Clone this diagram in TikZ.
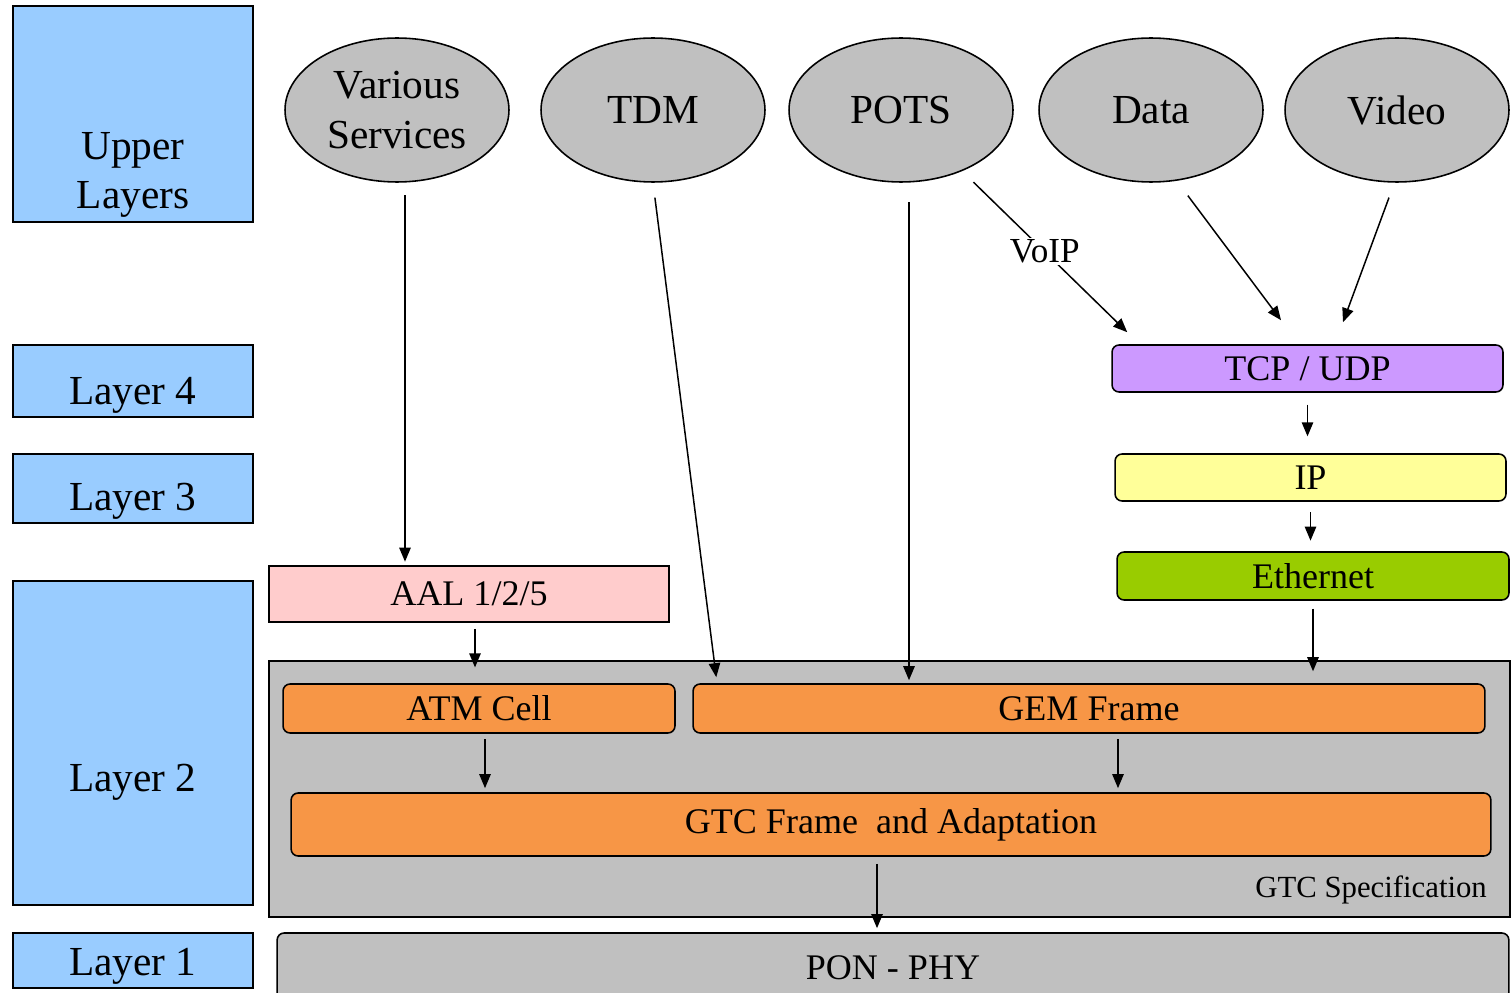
\documentclass[tikz,border=0pt]{standalone}
\usepackage{fontspec}
\setmainfont{Liberation Serif}
\usetikzlibrary{shapes.geometric,arrows.meta}
\definecolor{layerblue}{HTML}{99CCFF}
\definecolor{svcgray}{HTML}{C0C0C0}
\definecolor{tcppurple}{HTML}{CC99FF}
\definecolor{ipyellow}{HTML}{FFFF99}
\definecolor{ethgreen}{HTML}{99CC00}
\definecolor{aalpink}{HTML}{FFCCCC}
\definecolor{gtcorange}{HTML}{F79646}
\begin{document}
\begin{tikzpicture}[x=0.02cm,y=-0.02cm,
  layerbox/.style={draw,fill=layerblue,line width=0.9pt},
  layertext/.style={align=center,font=\fontsize{23.5}{28}\selectfont},
  service/.style={ellipse,draw,fill=svcgray,line width=0.9pt,inner sep=0pt,
    minimum width=4.48cm,minimum height=2.88cm,align=center,
    font=\fontsize{23.5}{28}\selectfont},
  proto/.style={draw,line width=0.9pt,inner sep=0pt,rounded corners=4pt,
    font=\fontsize{20.5}{24}\selectfont},
  arr/.style={-{Triangle[length=8pt,width=6.5pt]},line width=0.85pt},
  voip/.style={fill=white,inner sep=1pt,font=\fontsize{20}{24}\selectfont}]
\useasboundingbox (0,0) rectangle (1511,993);

% layer column
\draw[layerbox] (13,6) rectangle (253,222);
\node[layertext] (upper) at (133,175) {Upper\\Layers};
\draw[layerbox] (13,345) rectangle (253,417);
\node[layertext] (l4) at (133,395) {Layer 4};
\draw[layerbox] (13,454) rectangle (253,523);
\node[layertext] (l3) at (133,501) {Layer 3};
\draw[layerbox] (13,581) rectangle (253,905);
\node[layertext] (l2) at (133,782) {Layer 2};
\draw[layerbox] (13,933) rectangle (253,988);
\node[layertext] (l1) at (133,966) {Layer 1};

% services
\node[service] (vs) at (397,110) {Various\\Services};
\node[service] (tdm) at (653,110) {TDM};
\node[service] (pots) at (901,110) {POTS};
\node[service] (data) at (1151,110) {Data};
\node[service] (video) at (1397,110) {Video};

% IP stack
\node[proto,fill=tcppurple,minimum width=7.82cm,minimum height=0.94cm] (tcp) at (1307.5,368.5) {TCP / UDP};
\node[proto,fill=ipyellow,minimum width=7.82cm,minimum height=0.94cm] (ip) at (1310.5,477.5) {IP};
\node[proto,fill=ethgreen,minimum width=7.84cm,minimum height=0.96cm] (eth) at (1313,576) {Ethernet};
\node[proto,fill=aalpink,rounded corners=0pt,minimum width=8cm,minimum height=1.12cm] (aal) at (469,594) {AAL 1/2/5};

% GTC
\node[draw,fill=svcgray,line width=0.9pt,minimum width=24.82cm,minimum height=5.12cm] (gtc) at (889.5,789) {};
\node[proto,fill=gtcorange,minimum width=7.84cm,minimum height=0.98cm] (atm) at (479,708.5) {ATM Cell};
\node[proto,fill=gtcorange,minimum width=15.84cm,minimum height=0.98cm] (gem) at (1089,708.5) {GEM Frame};
\node[proto,fill=gtcorange,minimum width=24cm,minimum height=1.26cm] (gtcf) at (891,824.5) {GTC Frame~ and Adaptation};
\node[anchor=base east,font=\fontsize{17.5}{21}\selectfont] (spec) at (1493,897) {GTC Specification};
\node[proto,fill=svcgray,minimum width=24.64cm,minimum height=1.4cm] (pon) at (893,968) {PON - PHY};

% arrows
\draw[arr,shorten <=7pt,shorten >=2pt] ([xshift=0.16cm]vs.south) -- ([xshift=0.16cm]vs.south |- aal.north);
\draw[arr,shorten <=8.5pt] (tdm.south) -- ([xshift=0.48cm,yshift=0.12cm]gem.north west);
\draw[arr,shorten <=11pt,shorten >=1.7pt] ([xshift=0.16cm]pots.south) -- ([xshift=0.16cm]pots.south |- gem.north);
\draw[arr,shorten <=9pt] (pots.-45) -- node[voip] (voiplbl) {VoIP} ([xshift=0.32cm,yshift=0.24cm]tcp.north west);
\draw[arr,shorten <=10.5pt] (data.-70) -- ([xshift=-0.53cm,yshift=0.48cm]tcp.north);
\draw[arr,shorten <=9pt] (video.-92) -- ([xshift=0.71cm,yshift=0.44cm]tcp.north);
\draw[arr,shorten <=6.8pt,shorten >=9.6pt] (tcp.south) -- (tcp.south |- ip.north);
\draw[arr,shorten <=6pt,shorten >=6pt] (ip.south) -- (ip.south |- eth.north);
\draw[arr,shorten <=4.5pt,shorten >=6.8pt] (eth.south) -- (eth.south |- gem.north);
\draw[arr,shorten <=3.4pt,shorten >=9pt] ([xshift=0.12cm]aal.south) -- ([xshift=0.12cm]aal.south |- atm.north);
\draw[arr,shorten <=3pt,shorten >=2.3pt] ([xshift=0.12cm]atm.south) -- ([xshift=0.12cm]atm.south |- gtcf.north);
\draw[arr,shorten <=3pt,shorten >=2.3pt] ([xshift=0.58cm]gem.south) -- ([xshift=0.58cm]gem.south |- gtcf.north);
\draw[arr,shorten <=4pt,shorten >=2.3pt] ([xshift=-0.28cm]gtcf.south) -- ([xshift=-0.28cm]gtcf.south |- pon.north);
\end{tikzpicture}
\end{document}
